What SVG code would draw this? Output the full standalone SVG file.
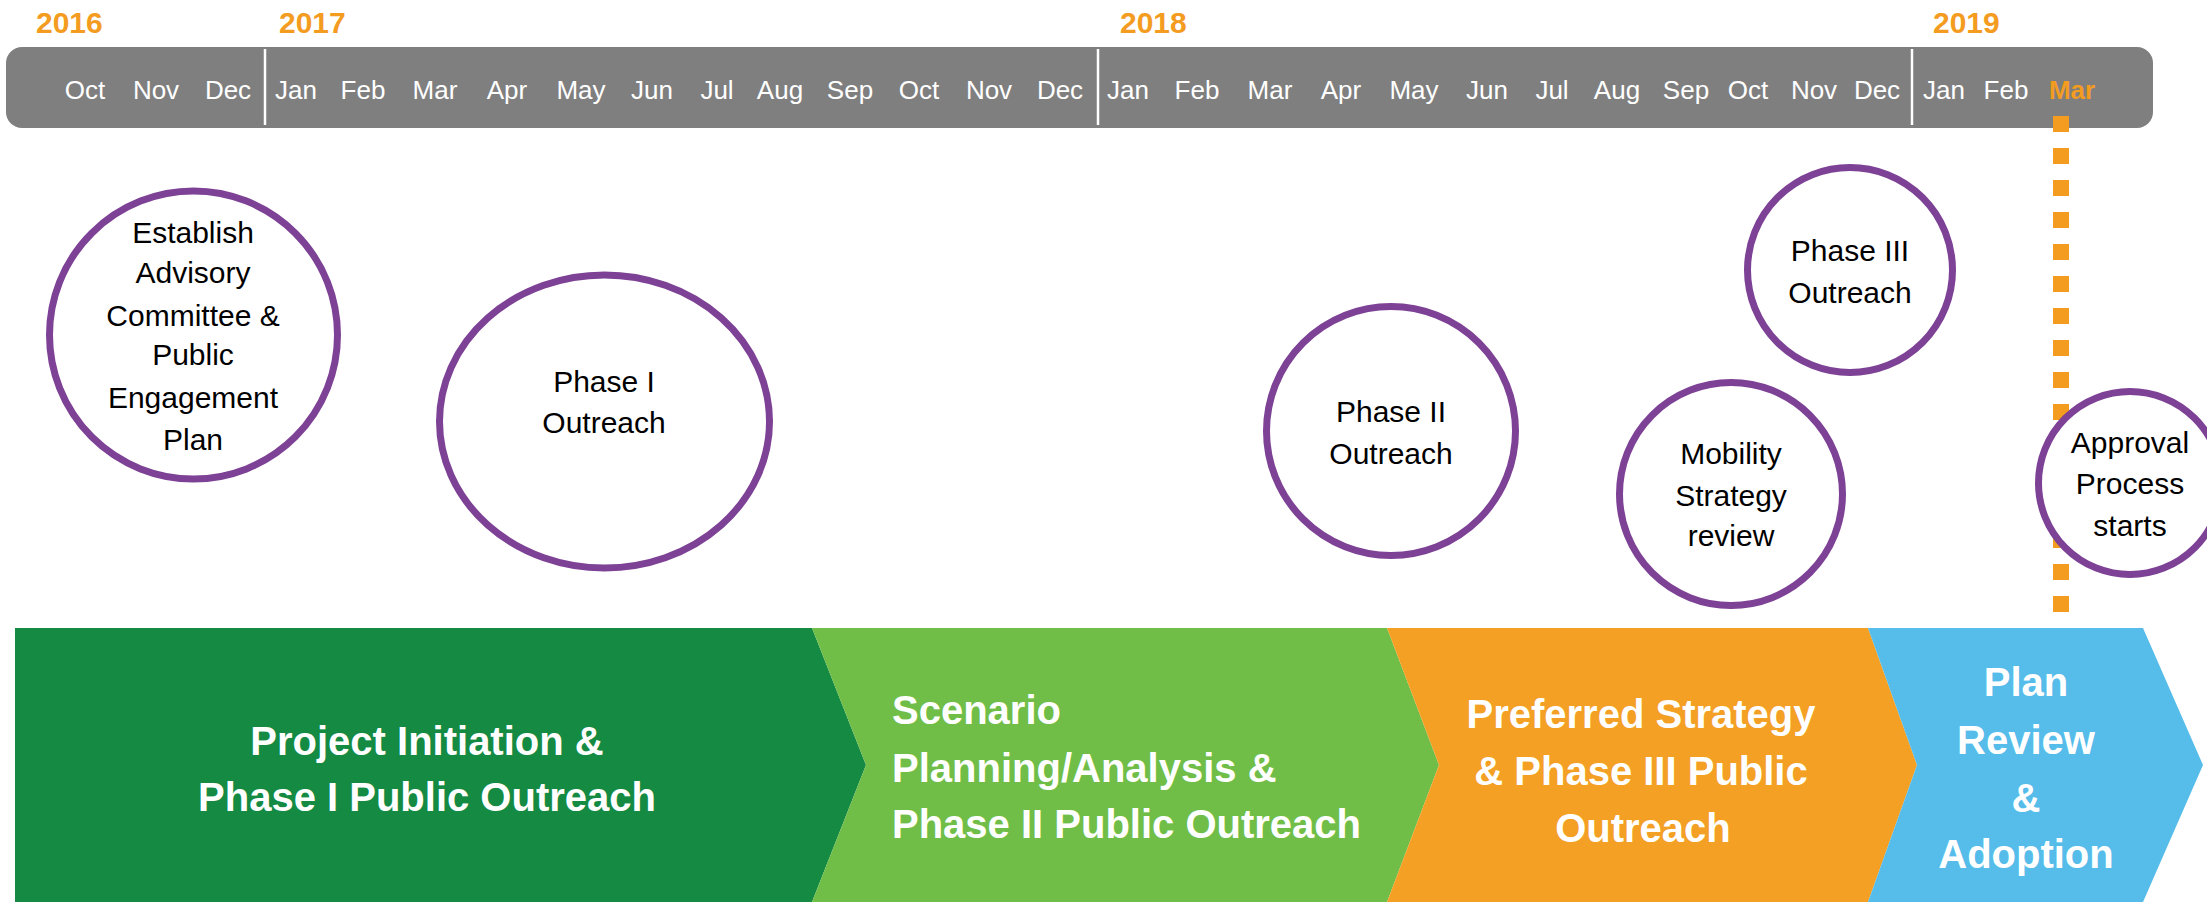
<svg xmlns="http://www.w3.org/2000/svg" width="2207" height="902" viewBox="0 0 2207 902">
<style>
.yr{font-family:"Liberation Sans",Arial,sans-serif;font-weight:bold;font-size:30px;fill:#F39C1F}
.mo{font-family:"Liberation Sans",Arial,sans-serif;font-size:26px;fill:#ffffff;text-anchor:middle}
.mo.cur{fill:#F39C1F;font-weight:bold}
.div{stroke:#ffffff;stroke-width:2.5}
.ms{fill:#ffffff;stroke:#7D4195;stroke-width:7}
.mt{font-family:"Liberation Sans",Arial,sans-serif;font-size:30px;fill:#000000;text-anchor:middle}
.pt{font-family:"Liberation Sans",Arial,sans-serif;font-weight:bold;font-size:40px;fill:#ffffff}
</style>
<g id="timeline">
<rect x="6" y="47" width="2147" height="81" rx="16" ry="16" fill="#7F7F7F"/>
<line class="div" x1="265" y1="49" x2="265" y2="125"/>
<line class="div" x1="1098" y1="49" x2="1098" y2="125"/>
<line class="div" x1="1912" y1="49" x2="1912" y2="125"/>
<text class="yr" x="36" y="33">2016</text>
<text class="yr" x="279" y="33">2017</text>
<text class="yr" x="1120" y="33">2018</text>
<text class="yr" x="1933" y="33">2019</text>
<text class="mo" x="85" y="99">Oct</text>
<text class="mo" x="156" y="99">Nov</text>
<text class="mo" x="228" y="99">Dec</text>
<text class="mo" x="296" y="99">Jan</text>
<text class="mo" x="363" y="99">Feb</text>
<text class="mo" x="435" y="99">Mar</text>
<text class="mo" x="507" y="99">Apr</text>
<text class="mo" x="581" y="99">May</text>
<text class="mo" x="652" y="99">Jun</text>
<text class="mo" x="717" y="99">Jul</text>
<text class="mo" x="780" y="99">Aug</text>
<text class="mo" x="850" y="99">Sep</text>
<text class="mo" x="919" y="99">Oct</text>
<text class="mo" x="989" y="99">Nov</text>
<text class="mo" x="1060" y="99">Dec</text>
<text class="mo" x="1128" y="99">Jan</text>
<text class="mo" x="1197" y="99">Feb</text>
<text class="mo" x="1270" y="99">Mar</text>
<text class="mo" x="1341" y="99">Apr</text>
<text class="mo" x="1414" y="99">May</text>
<text class="mo" x="1487" y="99">Jun</text>
<text class="mo" x="1552" y="99">Jul</text>
<text class="mo" x="1617" y="99">Aug</text>
<text class="mo" x="1686" y="99">Sep</text>
<text class="mo" x="1748" y="99">Oct</text>
<text class="mo" x="1814" y="99">Nov</text>
<text class="mo" x="1877" y="99">Dec</text>
<text class="mo" x="1944" y="99">Jan</text>
<text class="mo" x="2006" y="99">Feb</text>
<text class="mo cur" x="2072" y="99">Mar</text>
</g>
<g id="connectors">
<line x1="2061" y1="116" x2="2061" y2="612" stroke="#F39C1F" stroke-width="16" stroke-dasharray="16 16"/>
</g>
<g id="phase1">
<polygon points="15,628 812,628 866,765 812,902 15,902" fill="#148A43"/>
<text class="pt" text-anchor="middle" x="427" y="755">Project Initiation &amp;</text>
<text class="pt" text-anchor="middle" x="427" y="811">Phase I Public Outreach</text>
</g>
<g id="phase2">
<polygon points="812,628 1387,628 1439,765 1387,902 812,902 866,765" fill="#70BE47"/>
<text class="pt" x="892" y="724">Scenario</text>
<text class="pt" x="892" y="782">Planning/Analysis &amp;</text>
<text class="pt" x="892" y="838">Phase II Public Outreach</text>
</g>
<g id="phase3">
<polygon points="1387,628 1868,628 1917,765 1868,902 1387,902 1439,765" fill="#F3A024"/>
<text class="pt" text-anchor="middle" x="1641" y="728">Preferred Strategy</text>
<text class="pt" text-anchor="middle" x="1641" y="785">&amp; Phase III Public</text>
<text class="pt" text-anchor="middle" x="1643" y="842">Outreach</text>
</g>
<g id="phase4">
<polygon points="1868,628 2143,628 2203,765 2143,902 1868,902 1917,765" fill="#56BCEA"/>
<text class="pt" text-anchor="middle" x="2026" y="696">Plan</text>
<text class="pt" text-anchor="middle" x="2026" y="754">Review</text>
<text class="pt" text-anchor="middle" x="2026" y="812">&amp;</text>
<text class="pt" text-anchor="middle" x="2026" y="868">Adoption</text>
</g>
<g id="m-establish">
<ellipse class="ms" cx="193.5" cy="335" rx="144" ry="144"/>
<text class="mt" x="193" y="243">Establish</text>
<text class="mt" x="193" y="283">Advisory</text>
<text class="mt" x="193" y="326">Committee &amp;</text>
<text class="mt" x="193" y="365">Public</text>
<text class="mt" x="193" y="408">Engagement</text>
<text class="mt" x="193" y="450">Plan</text>
</g>
<g id="m-phase1">
<ellipse class="ms" cx="604.5" cy="421.5" rx="165" ry="146.5"/>
<text class="mt" x="604" y="392">Phase I</text>
<text class="mt" x="604" y="433">Outreach</text>
</g>
<g id="m-phase2">
<ellipse class="ms" cx="1391" cy="431" rx="124.5" ry="124.5"/>
<text class="mt" x="1391" y="422">Phase II</text>
<text class="mt" x="1391" y="464">Outreach</text>
</g>
<g id="m-phase3">
<ellipse class="ms" cx="1850" cy="270" rx="102.5" ry="102.5"/>
<text class="mt" x="1850" y="261">Phase III</text>
<text class="mt" x="1850" y="303">Outreach</text>
</g>
<g id="m-mobility">
<ellipse class="ms" cx="1731" cy="494" rx="111.5" ry="111.5"/>
<text class="mt" x="1731" y="464">Mobility</text>
<text class="mt" x="1731" y="506">Strategy</text>
<text class="mt" x="1731" y="546">review</text>
</g>
<g id="m-approval">
<ellipse class="ms" cx="2130" cy="483" rx="91.5" ry="91.5"/>
<text class="mt" x="2130" y="453">Approval</text>
<text class="mt" x="2130" y="494">Process</text>
<text class="mt" x="2130" y="536">starts</text>
</g>
</svg>
